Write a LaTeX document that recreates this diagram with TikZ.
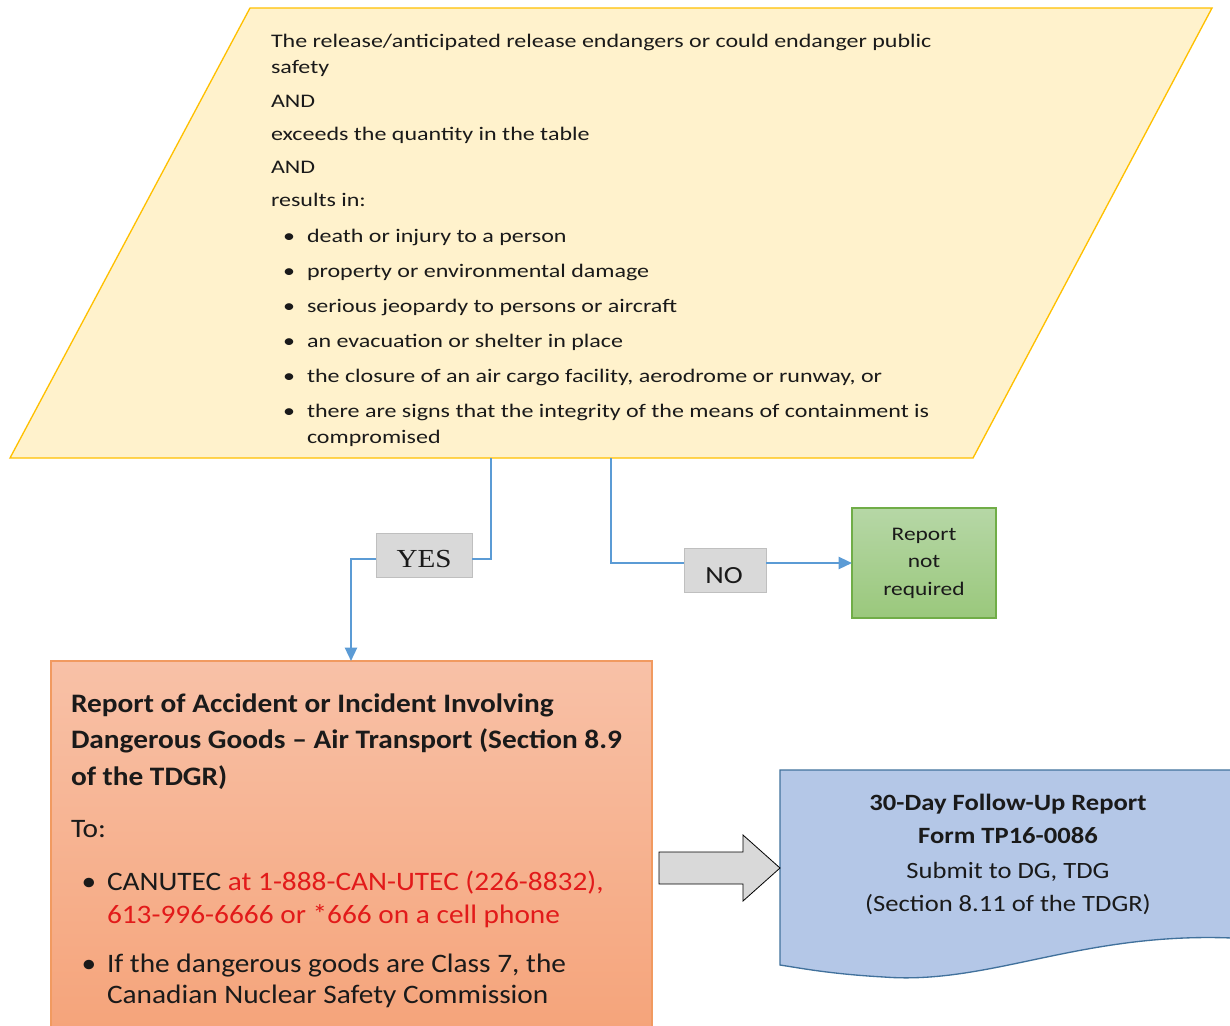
\documentclass[tikz,border=0pt]{standalone}
\usepackage{fontspec}
\usetikzlibrary{arrows.meta}
\setmainfont{Carlito}
\newfontfamily\pfont{Carlito}[FakeStretch=1.25]
\newfontfamily\gfont{Carlito}[FakeStretch=1.22]
\newfontfamily\rfont{Carlito}[FakeStretch=1.1]
\newfontfamily\dfont{Carlito}[FakeStretch=1.14]
\newfontfamily\yfont{Liberation Serif}[FakeStretch=1.12]
\newfontfamily\nfont{Carlito}[FakeStretch=1.16]
\definecolor{parafill}{HTML}{FFF2CC}
\definecolor{paradraw}{HTML}{FFC000}
\definecolor{conncol}{HTML}{5B9BD5}
\definecolor{lblfill}{HTML}{D9D9D9}
\definecolor{lbldraw}{HTML}{BFBFBF}
\definecolor{grtop}{HTML}{B6D7A6}
\definecolor{grbot}{HTML}{9AC87C}
\definecolor{grdraw}{HTML}{70AD47}
\definecolor{reptop}{HTML}{F8C1A7}
\definecolor{repbot}{HTML}{F5A379}
\definecolor{repdraw}{HTML}{F19A60}
\definecolor{docfill}{HTML}{B4C7E7}
\definecolor{docdraw}{HTML}{41719C}
\definecolor{redtxt}{HTML}{E21A1A}
\definecolor{txt}{HTML}{1A1A1A}
\newcommand\myPline[3]{\node[ptext] (#1) at (271,#2) {#3};}
\newcommand\myPbul[3]{\node[pbul] (#1b) at (289,#2) {•};\node[ptext] (#1) at (307,#2) {#3};}
\newcommand\myRline[3]{\node[rtext] (#1) at (71,#2) {#3};}
\newcommand\myRbul[3]{\node[rbul] (#1b) at (89,#2) {•};\node[rtext] (#1) at (107,#2) {#3};}
\newcommand\myDline[3]{\node[dtext] (#1) at (1008,#2) {#3};}
\begin{document}
\begin{tikzpicture}[x=0.75pt,y=-0.75pt,
  every node/.style={inner sep=0pt,outer sep=0pt},
  ptext/.style={anchor=base west,text=txt,font=\pfont\fontsize{14.4}{17}\selectfont},
  pbul/.style={anchor=base,text=txt,font=\pfont\fontsize{14.4}{17}\selectfont},
  rtext/.style={anchor=base west,text=txt,font=\rfont\fontsize{20}{24}\selectfont},
  rbul/.style={anchor=base,text=txt,font=\rfont\fontsize{20}{24}\selectfont},
  dtext/.style={anchor=base,text=txt,font=\dfont\fontsize{17.5}{21}\selectfont},
  conn/.style={draw=conncol,line width=1.7pt},
  arr/.style={-{Triangle[length=10pt,width=9pt]}},
  lbl/.style={draw=lbldraw,fill=lblfill,line width=0.6pt},
]
\useasboundingbox (0,0) rectangle (1230,1025);
% decision parallelogram
\draw[fill=parafill,draw=paradraw,line width=1pt] (250,8) -- (1212,8) -- (973,458) -- (10,458) -- cycle;
\coordinate (pY) at (491,458);
\coordinate (pN) at (611,458);
\myPline{l1}{47}{The release/anticipated release endangers or could endanger public}
\myPline{l2}{73}{safety}
\myPline{l3}{107}{AND}
\myPline{l4}{140}{exceeds the quantity in the table}
\myPline{l5}{173}{AND}
\myPline{l6}{206}{results in:}
\myPbul{b1}{242}{death or injury to a person}
\myPbul{b2}{277}{property or environmental damage}
\myPbul{b3}{312}{serious jeopardy to persons or aircraft}
\myPbul{b4}{347}{an evacuation or shelter in place}
\myPbul{b5}{382}{the closure of an air cargo facility, aerodrome or runway, or}
\myPbul{b6}{417}{there are signs that the integrity of the means of containment is}
\node[ptext] (b6c) at (307,443) {compromised};
% labels
\node[lbl,minimum width={96*0.75pt},minimum height={44*0.75pt}] (yes) at (424,555) {};
\node[anchor=base,text=txt,font=\yfont\fontsize{19.5}{22}\selectfont] (yesT) at (424,567) {YES};
\node[lbl,minimum width={82*0.75pt},minimum height={44*0.75pt}] (no) at (725,570) {};
\node[anchor=base,text=txt,font=\nfont\fontsize{18.5}{22}\selectfont] (noT) at (724,583) {NO};
% green box
\node[draw=grdraw,line width=0.8pt,top color=grtop,bottom color=grbot,minimum width={144*0.75pt},minimum height={110*0.75pt},align=center,text=txt,font=\gfont\fontsize{14.4}{20.6}\selectfont] (green) at (924,563) {Report\\not\\required};
% report box
\node[draw=repdraw,line width=0.9pt,top color=reptop,bottom color=repbot,minimum width={601*0.75pt},minimum height={380*0.75pt}] (report) at (351.5,851) {};
\myRline{r1}{712}{\bfseries Report of Accident or Incident Involving}
\myRline{r2}{748}{\bfseries Dangerous Goods – Air Transport (Section 8.9}
\myRline{r3}{785}{\bfseries of the TDGR)}
\myRline{r4}{837}{To:}
\myRbul{r5}{890}{CANUTEC \textcolor{redtxt}{at 1-888-CAN-UTEC (226-8832),}}
\node[rtext,text=redtxt] (r6) at (107,923) {613-996-6666 or *666 on a cell phone};
\myRbul{r7}{972}{If the dangerous goods are Class 7, the}
\node[rtext] (r8) at (107,1003) {Canadian Nuclear Safety Commission};
% document shape
\draw[fill=docfill,draw=docdraw,line width=1pt] (780,770) -- (1232,770) -- (1232,938)
  .. controls (1080,932) and (990,985) .. (884,977)
  .. controls (830,974) and (800,968) .. (780,965) -- cycle;
\coordinate (docL) at (780,868);
\myDline{d1}{810}{\bfseries 30-Day Follow-Up Report}
\myDline{d2}{843}{\bfseries Form TP16-0086}
\myDline{d3}{878}{Submit to DG, TDG}
\myDline{d4}{911}{(Section 8.11 of the TDGR)}
% block arrow report -> document
\draw[fill=lblfill,draw=black,line width=0.6pt] (659,852) -- (743,852) -- (743,835) -- (docL) -- (743,901) -- (743,884) -- (659,884) -- cycle;
% connectors
\draw[conn] (pY) |- ([yshift=-3pt]yes.east);
\coordinate (rIn) at (351,661);
\draw[conn,arr] ([yshift=-3pt]yes.west) -| (rIn);
\draw[conn] (pN) |- ([yshift=5.25pt]no.west);
\draw[conn,arr] ([yshift=5.25pt]no.east) -- (green.west);
\end{tikzpicture}
\end{document}
